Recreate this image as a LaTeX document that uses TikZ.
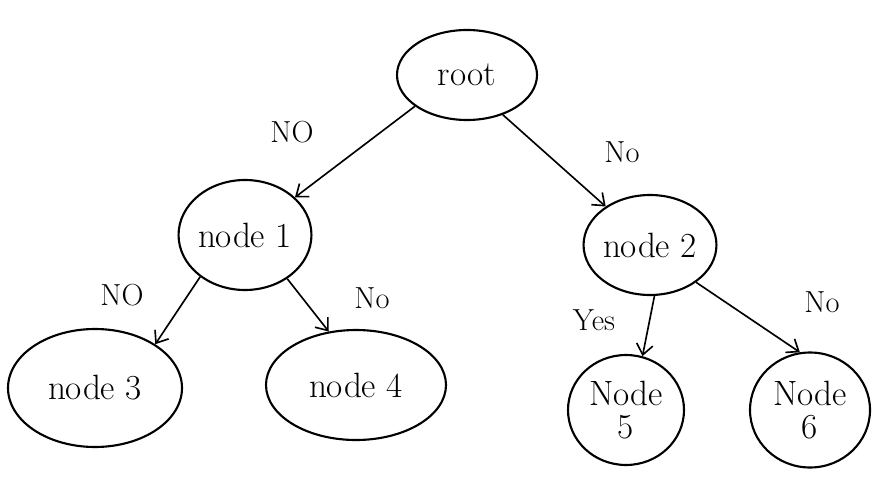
\documentclass[tikz,border=0pt]{standalone}
\usetikzlibrary{shapes.geometric,arrows.meta}
\begin{document}
\begin{tikzpicture}[x=0.03cm,y=-0.03cm,
  bub/.style={draw, ellipse, line width=1.8pt, inner sep=0pt, font=\fontsize{30}{32}\selectfont, align=center},
  edge/.style={line width=1.4pt, -{Straight Barb[length=9pt,width=14pt,line width=1.4pt]}},
  lab/.style={font=\fontsize{26}{28}\selectfont}]
\useasboundingbox (0,0) rectangle (874,484);
\node[bub, minimum width=140*0.03cm, minimum height=90*0.03cm] (root) at (467,75) {root};
\node[bub, minimum width=132*0.03cm, minimum height=110*0.03cm] (n1) at (245,235) {node 1};
\node[bub, minimum width=130*0.03cm, minimum height=100*0.03cm] (n2) at (650,245) {node 2};
\node[bub, minimum width=174*0.03cm, minimum height=118*0.03cm] (n3) at (95,388) {node 3};
\node[bub, minimum width=180*0.03cm, minimum height=110*0.03cm] (n4) at (356,385) {node 4};
\node[bub, minimum width=116*0.03cm, minimum height=110*0.03cm] (n5) at (626,410) {Node\\[-4pt]5};
\node[bub, minimum width=120*0.03cm, minimum height=115*0.03cm] (n6) at (810,410) {Node\\[-4pt]6};
\draw[edge] (root.211) -- (n1.37);
\draw[edge] (root.-48) -- (n2.139);
\draw[edge] (n1.223) -- (n3.36);
\draw[edge] (n1.-46) -- (n4.117);
\draw[edge] (n2.-85) -- (n5.73);
\draw[edge] (n2.-39) -- (n6.100);
\node[lab] (l1) at (292,132) {NO};
\node[lab] (l2) at (622,152) {No};
\node[lab] (l3) at (122,295) {NO};
\node[lab] (l4) at (372,298) {No};
\node[lab] (l5) at (594,320) {Yes};
\node[lab] (l6) at (822,302) {No};
\end{tikzpicture}
\end{document}
